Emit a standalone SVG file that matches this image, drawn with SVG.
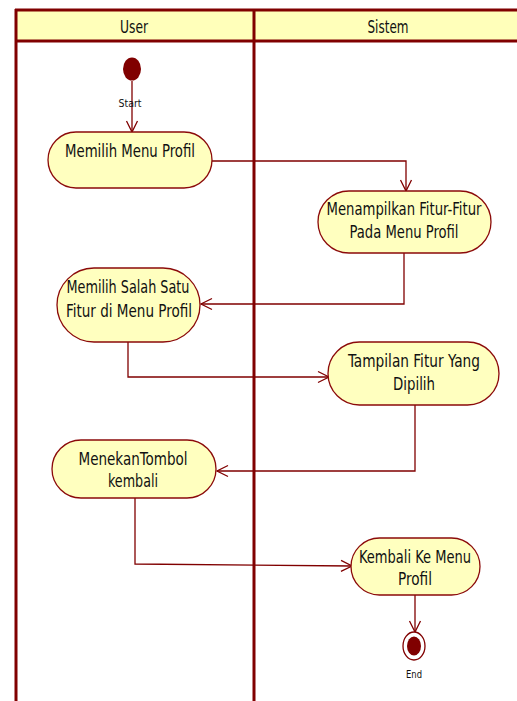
<svg xmlns="http://www.w3.org/2000/svg" width="517" height="701" viewBox="0 0 517 701">
<style>
.lane{stroke:#800000;stroke-width:3;fill:none}
.hdr{fill:#FFFFBA}
.act{fill:#FFFFBF;stroke:#8B0A0A;stroke-width:1.3}
.t{font-family:"DejaVu Sans Condensed","Liberation Sans",sans-serif;font-size:18px;fill:#111;text-anchor:middle}
.s{font-family:"DejaVu Sans Condensed","Liberation Sans",sans-serif;font-size:10.5px;fill:#111;text-anchor:middle}
.c{stroke:#800000;stroke-width:1.3;fill:none;marker-end:url(#ah)}
</style>
<defs>
<marker id="ah" markerUnits="userSpaceOnUse" markerWidth="14" markerHeight="14" viewBox="0 0 14 14" refX="12" refY="7" orient="auto">
<path d="M1,1.5 L12,7 L1,12.5" fill="none" stroke="#800000" stroke-width="1.3"/>
</marker>
</defs>
<g id="swimlanes">
<rect class="hdr" x="15" y="10" width="502" height="31"/>
<line class="lane" x1="15" y1="10" x2="517" y2="10"/>
<line class="lane" x1="15" y1="41" x2="517" y2="41"/>
<line class="lane" x1="16" y1="9" x2="16" y2="701"/>
<line class="lane" x1="254" y1="9" x2="254" y2="701"/>
<text class="t" x="134" y="33" textLength="28" lengthAdjust="spacingAndGlyphs">User</text>
<text class="t" x="388" y="33" textLength="41" lengthAdjust="spacingAndGlyphs">Sistem</text>
</g>
<g id="connectors">
<path class="c" d="M132,81 L132,132"/>
<path class="c" d="M212,161 L406,161 L406,191"/>
<path class="c" d="M404,253 L404,304 L201,304"/>
<path class="c" d="M128,342 L128,377 L329,377"/>
<path class="c" d="M415,405 L415,471 L217,471"/>
<path class="c" d="M135,498 L135,564 L352,566"/>
<path class="c" d="M415,595 L415,632"/>
</g>
<g id="start">
<ellipse cx="132" cy="69" rx="9" ry="11.5" fill="#800000"/>
<text class="s" x="130" y="107" textLength="23" lengthAdjust="spacingAndGlyphs">Start</text>
</g>
<g id="n1">
<rect class="act" x="48" y="132" width="164" height="56" rx="28"/>
<text class="t" x="130" y="157" textLength="130" lengthAdjust="spacingAndGlyphs">Memilih Menu Profil</text>
</g>
<g id="n2">
<rect class="act" x="318" y="191" width="173" height="62" rx="31"/>
<text class="t" x="404" y="215" textLength="155" lengthAdjust="spacingAndGlyphs">Menampilkan Fitur-Fitur</text>
<text class="t" x="404" y="238" textLength="109" lengthAdjust="spacingAndGlyphs">Pada Menu Profil</text>
</g>
<g id="n3">
<rect class="act" x="57" y="268" width="143" height="74" rx="37"/>
<text class="t" x="128" y="293" textLength="123" lengthAdjust="spacingAndGlyphs">Memilih Salah Satu</text>
<text class="t" x="129" y="317" textLength="126" lengthAdjust="spacingAndGlyphs">Fitur di Menu Profil</text>
</g>
<g id="n4">
<rect class="act" x="328" y="342" width="171" height="63" rx="31.5"/>
<text class="t" x="414" y="367" textLength="132" lengthAdjust="spacingAndGlyphs">Tampilan Fitur Yang</text>
<text class="t" x="414" y="390" textLength="42" lengthAdjust="spacingAndGlyphs">Dipilih</text>
</g>
<g id="n5">
<rect class="act" x="52" y="440" width="164" height="58" rx="29"/>
<text class="t" x="133" y="465" textLength="109" lengthAdjust="spacingAndGlyphs">MenekanTombol</text>
<text class="t" x="133" y="487" textLength="50" lengthAdjust="spacingAndGlyphs">kembali</text>
</g>
<g id="n6">
<rect class="act" x="351" y="538" width="129" height="57" rx="28.5"/>
<text class="t" x="415" y="563" textLength="112" lengthAdjust="spacingAndGlyphs">Kembali Ke Menu</text>
<text class="t" x="415" y="585" textLength="34" lengthAdjust="spacingAndGlyphs">Profil</text>
</g>
<g id="end">
<ellipse cx="414" cy="646" rx="11" ry="14" fill="#fff" stroke="#800000" stroke-width="1.3"/>
<ellipse cx="414" cy="646" rx="7" ry="9.5" fill="#800000"/>
<text class="s" x="414" y="678" textLength="16" lengthAdjust="spacingAndGlyphs">End</text>
</g>
</svg>
